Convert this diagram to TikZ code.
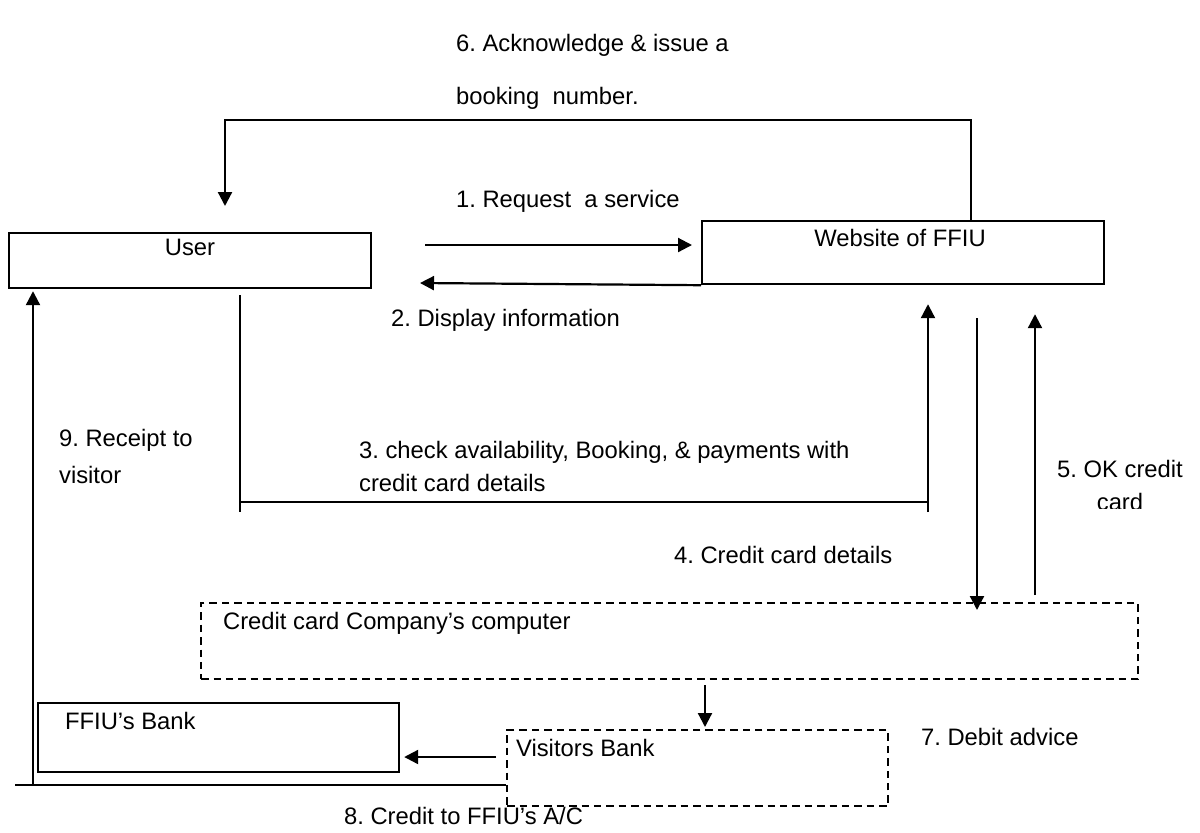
\documentclass[tikz,border=0pt]{standalone}
\usepackage{fontspec}
\setmainfont{Liberation Sans}
\usetikzlibrary{arrows.meta}
\frenchspacing

\begin{document}
\begin{tikzpicture}[x=0.5pt, y=-0.5pt, line width=1.1pt,
    box/.style={draw, rectangle, inner sep=0, anchor=north west},
    dbox/.style={box, dash pattern=on 3.7pt off 2.5pt},
    txt/.style={anchor=base west, inner sep=0, font=\fontsize{11.9}{14}\selectfont},
    arr/.style={-{Triangle[length=7pt,width=7pt]}}]
    \useasboundingbox (0,0) rectangle (1200,832);

    % boxes
    \node[box, minimum width=181pt, minimum height=27.5pt] (user) at (8,232) {};
    \node[box, minimum width=201pt, minimum height=31.5pt] (web) at (701,220) {};
    \node[dbox, minimum width=468.5pt, minimum height=38pt] (card) at (200,602) {};
    \node[dbox, minimum width=190.5pt, minimum height=38pt] (vbank) at (506,729) {};
    \node[box, minimum width=180.5pt, minimum height=34.5pt] (fbank) at (37,702) {};

    % box texts
    \node[txt, anchor=base] (tuser) at (190,255) {User};
    \node[txt, anchor=base] (tweb) at (900,246) {Website of FFIU};
    \node[txt] (tcard) at (222,629) {Credit card Company’s computer};
    \node[txt] (tvbank) at (515,756) {Visitors Bank};
    \node[txt] (tfbank) at (64,729) {FFIU’s Bank};

    % labels
    \node[txt] (l1) at (455,207) {1. Request\ \ a service};
    \node[txt] (l2) at (390,326) {2. Display information};
    \node[txt] (l3a) at (358,458) {3. check availability, Booking, \& payments with};
    \node[txt] (l3b) at (358,491) {credit card details};
    \node[txt] (l4) at (673,563) {4. Credit card details};
    \node[txt, anchor=base] (l5a) at (1120,477) {5. OK credit};
    \begin{scope}
        \clip (1050,460) rectangle (1200,508);
        \node[txt, anchor=base] (l5b) at (1120,510) {card};
    \end{scope}
    \node[txt] (l6a) at (455,51) {6. Acknowledge \& issue a};
    \node[txt] (l6b) at (455,104) {booking\ \ number.};
    \node[txt] (l7) at (920,745) {7. Debit advice};
    \node[txt] (l8) at (343,824) {8. Credit to FFIU’s A/C};
    \node[txt] (l9a) at (58,446) {9. Receipt to};
    \node[txt] (l9b) at (58,483) {visitor};

    % connectors
    \coordinate (req) at (425,245);
    \coordinate (disp) at (420,283);
    \coordinate (ack) at (225,120);
    \coordinate (chk) at (240,502);
    \coordinate (pay) at (928,502);
    \coordinate (cc) at (977,318);
    \coordinate (ok) at (1035,595);
    \coordinate (deb) at (705,685);
    \coordinate (crd) at (496,757);
    \coordinate (rc) at (33,785);
    \coordinate (rcl) at (15,785);

    \draw[arr] (req) -- ([xshift=-4.5pt]req -| web.west);
    \draw[arr] (web.south west) -- (disp);
    \draw[arr] ([xshift=34pt]web.north) |- (ack) -- ([yshift=13pt]ack |- user.north);
    \draw ([yshift=-3pt]chk |- user.south) -- ([yshift=-5pt]chk);
    \draw (chk) -- (pay);
    \draw[arr] ([yshift=-5pt]pay) -- ([yshift=-9.5pt]pay |- web.south);
    \draw[arr] (cc) -- ([yshift=-4pt]cc |- card.north);
    \draw[arr] (ok) -- ([yshift=-14.5pt]ok |- web.south);
    \draw[arr] (deb) -- ([yshift=1pt]deb |- vbank.north);
    \draw[arr] (crd) -- ([xshift=2pt]crd -| fbank.east);
    \draw (rc -| vbank.west) -- (rcl);
    \draw[arr] (rc) -- ([yshift=-1pt]rc |- user.south);
\end{tikzpicture}
\end{document}
